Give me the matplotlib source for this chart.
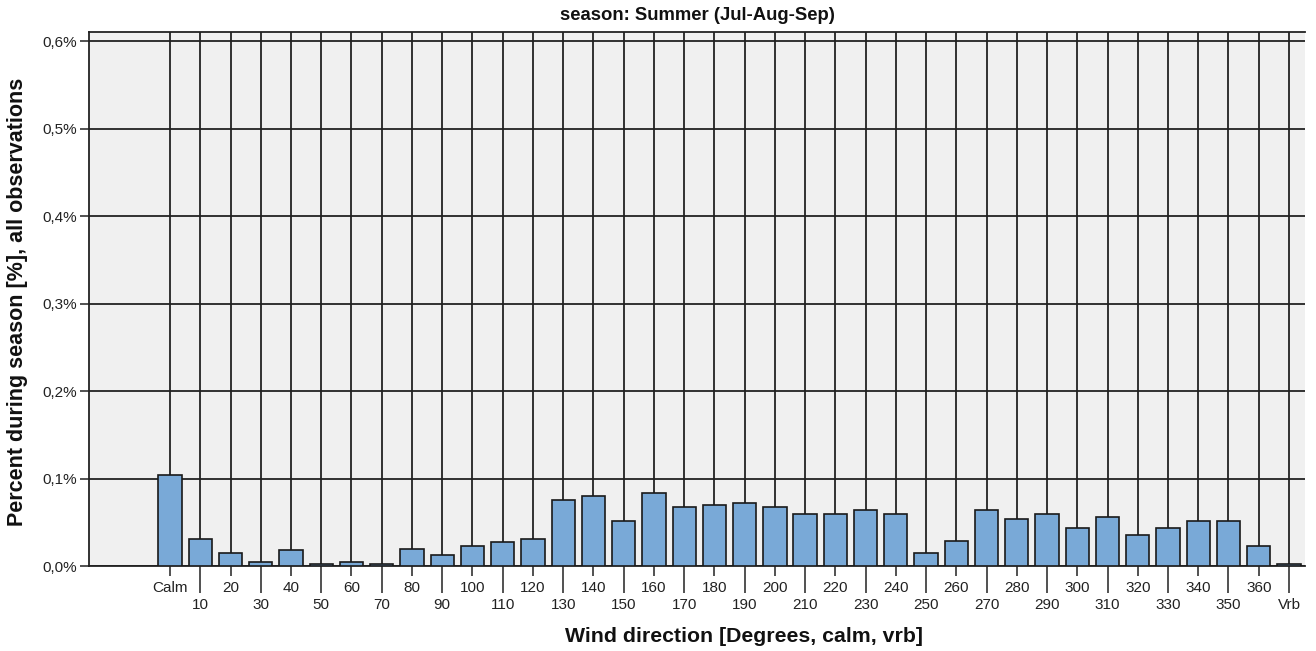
import numpy as np
import matplotlib.pyplot as plt
from matplotlib.ticker import FuncFormatter

# Wind direction categories and percent of observations (summer season)
directions = ['Calm'] + [str(d) for d in range(10, 370, 10)] + ['Vrb']
percent = [0.104, 0.031, 0.015, 0.005, 0.018, 0.002, 0.005, 0.002, 0.020, 0.013,
           0.023, 0.028, 0.031, 0.075, 0.080, 0.052, 0.083, 0.067, 0.070, 0.072,
           0.067, 0.059, 0.059, 0.064, 0.059, 0.015, 0.029, 0.064, 0.054, 0.060,
           0.044, 0.056, 0.036, 0.044, 0.052, 0.052, 0.023, 0.002]

title = 'season: Summer (Jul-Aug-Sep)'
x_label = 'Wind direction [Degrees, calm, vrb]'
y_label = 'Percent during season [%], all observations'

plt.rcParams['font.family'] = ['Liberation Sans', 'DejaVu Sans']

fig = plt.figure(figsize=(13.16, 6.51), dpi=100)
ax = fig.add_axes([89 / 1316, 85 / 651, (1305 - 89) / 1316, (566 - 32) / 651])
ax.set_facecolor('#f0f0f0')

x = np.arange(len(directions))
ax.bar(x, percent, width=0.77, color='#79a9d7', edgecolor='#1a1a1a',
       linewidth=1.2, zorder=3)

ax.set_xlim(-2.68, len(directions) - 1 + 0.53)
ax.set_ylim(0, 0.6103)

# staggered category labels: even on top row, odd on lower row (longer ticks)
ax.set_xticks(x[::2])
ax.set_xticklabels(directions[::2])
ax.set_xticks(x[1::2], minor=True)
ax.set_xticklabels(directions[1::2], minor=True)
ax.tick_params(axis='x', which='major', length=7.5, width=1.1, color='#222222',
               pad=3, labelsize=11, labelcolor='#222222')
ax.tick_params(axis='x', which='minor', length=19.5, width=1.1, color='#222222',
               pad=3.2, labelsize=11, labelcolor='#222222')

ax.set_yticks(np.arange(0, 0.61, 0.1))
ax.yaxis.set_major_formatter(FuncFormatter(lambda v, p: f'{v:.1f}%'.replace('.', ',')))
ax.tick_params(axis='y', length=6.5, width=1.1, color='#222222', pad=2,
               labelsize=11, labelcolor='#222222')

ax.grid(axis='x', which='both', color='#222222', linewidth=1.3, zorder=1)
ax.grid(axis='y', which='major', color='#222222', linewidth=1.3, zorder=1)
ax.set_axisbelow(True)

for side in ['left', 'bottom', 'top']:
    ax.spines[side].set_color('#222222')
    ax.spines[side].set_linewidth(1.3)
ax.spines['right'].set_visible(False)

fig.text(697 / 1316, 1 - 16 / 651, title, ha='center', va='center',
         fontsize=13.3, fontweight='bold', color='#111111')
fig.text(744 / 1316, 1 - 636 / 651, x_label, ha='center', va='center',
         fontsize=15.3, fontweight='bold', color='#111111')
fig.text(18 / 1316, (651 - 302) / 651, y_label, ha='center', va='center',
         rotation=90, fontsize=15.5, fontweight='bold', color='#111111')

fig.savefig('out.png', dpi=100)
